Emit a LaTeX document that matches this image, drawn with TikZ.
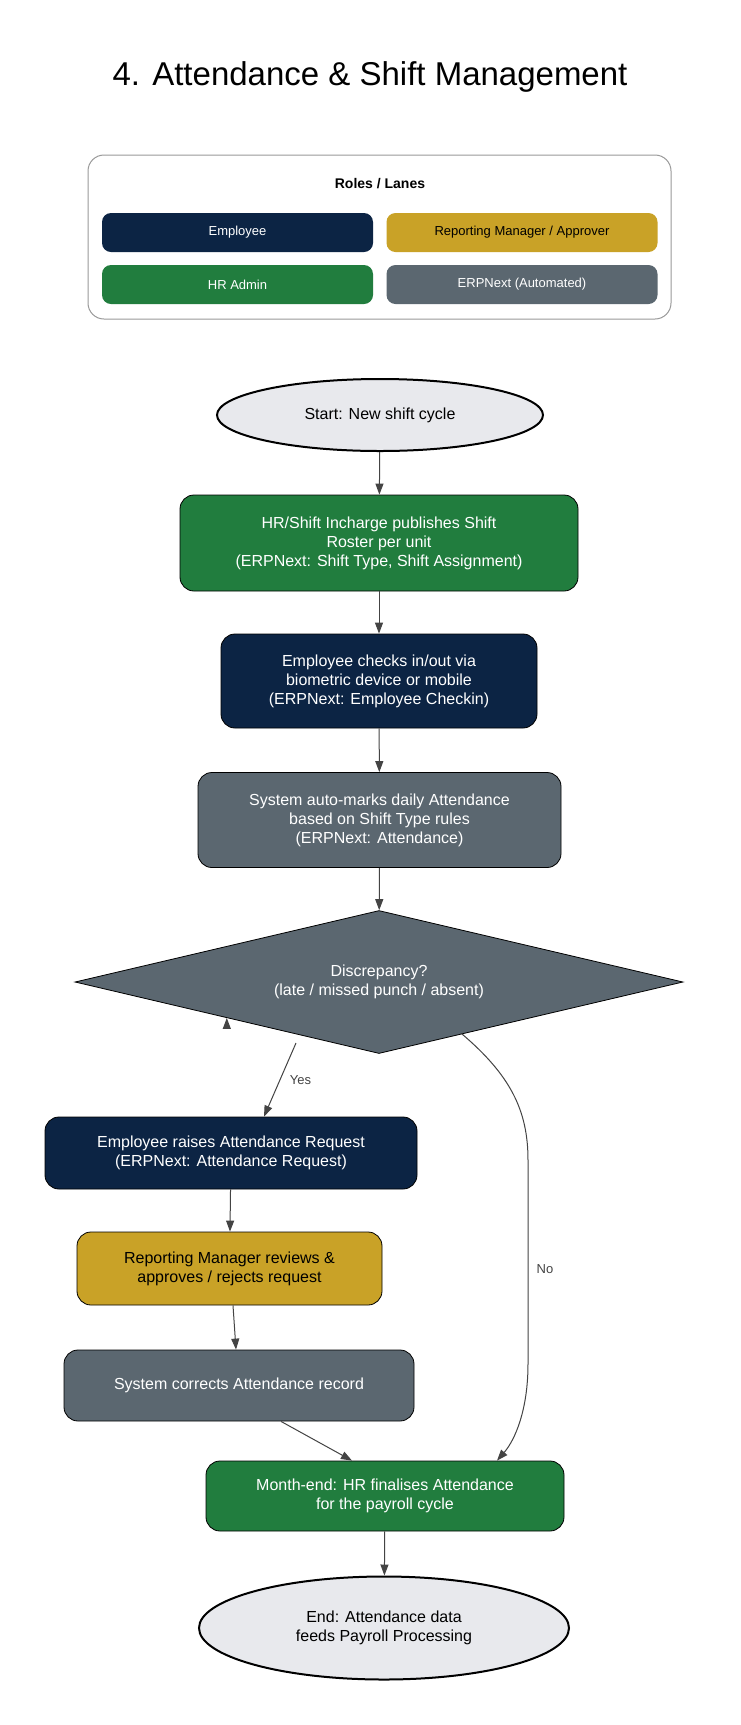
\documentclass[tikz,border=0pt]{standalone}
\usepackage{fontspec}
\setmainfont{Liberation Sans}
\usetikzlibrary{shapes.geometric,arrows.meta}
\definecolor{navy}{HTML}{0C2444}
\definecolor{gold}{HTML}{C9A227}
\definecolor{hrgreen}{HTML}{217D3E}
\definecolor{sysgray}{HTML}{5B6770}
\definecolor{startfill}{HTML}{E8E9ED}
\definecolor{edgec}{HTML}{444444}
\begin{document}
\begin{tikzpicture}[x=1pt,y=-1pt,
  box/.style={draw=black,line width=0.8pt,rounded corners=14pt,align=center,font=\fontsize{16}{19}\selectfont,text=white,inner sep=0pt},
  pill/.style={rounded corners=9pt,minimum width=271pt,minimum height=39pt,font=\fontsize{13}{15}\selectfont,inner sep=0pt},
  term/.style={ellipse,draw=black,line width=2pt,fill=startfill,align=center,font=\fontsize{16}{19}\selectfont,inner sep=0pt},
  arr/.style={-{Triangle[length=11pt,width=8pt]},draw=edgec,line width=1pt},
  elab/.style={font=\fontsize{13}{15}\selectfont,text=edgec}]
\useasboundingbox (0,0) rectangle (740,1725);
\fill[white] (0,0) rectangle (740,1725);
\node (title) at (370,77) {\fontsize{33}{38}\selectfont 4. Attendance \& Shift Management};
\draw[draw=gray!80,line width=1pt,rounded corners=16pt] (88,155) rectangle (671,319);
\node[font=\bfseries\fontsize{14}{16}\selectfont] (roles) at (380,184) {Roles / Lanes};
\node[pill,fill=navy,text=white] (lemp) at (237.5,232.5) {Employee};
\node[pill,fill=gold,text=black] (lmgr) at (522,232.5) {Reporting Manager / Approver};
\node[pill,fill=hrgreen,text=white] (lhr) at (237.5,284.5) {HR Admin};
\node[pill,fill=sysgray,text=white] (lsys) at (522,284.5) {ERPNext (Automated)};

\node[term,minimum width=326pt,minimum height=72pt] (start) at (380,415) {Start: New shift cycle};
\node[box,fill=hrgreen,minimum width=398pt,minimum height=96pt] (publish) at (379,543) {HR/Shift Incharge publishes Shift\\Roster per unit\\(ERPNext: Shift Type, Shift Assignment)};
\node[box,fill=navy,minimum width=316pt,minimum height=94pt] (checkin) at (379,681) {Employee checks in/out via\\biometric device or mobile\\(ERPNext: Employee Checkin)};
\node[box,fill=sysgray,minimum width=363pt,minimum height=95pt] (automark) at (379.5,820) {System auto-marks daily Attendance\\based on Shift Type rules\\(ERPNext: Attendance)};
\node[diamond,draw=black,line width=0.8pt,fill=sysgray,text=white,align=center,font=\fontsize{16}{19}\selectfont,minimum width=608pt,minimum height=143pt,inner sep=0pt,aspect=4.25] (disc) at (379,982) {Discrepancy?\\(late / missed punch / absent)};
\node[box,fill=navy,minimum width=372pt,minimum height=72pt] (request) at (231,1153) {Employee raises Attendance Request\\(ERPNext: Attendance Request)};
\node[box,fill=gold,text=black,minimum width=305pt,minimum height=73pt] (review) at (229.5,1268.5) {Reporting Manager reviews \&\\approves / rejects request};
\node[box,fill=sysgray,minimum width=350pt,minimum height=71pt] (correct) at (239,1385.5) {System corrects Attendance record};
\node[box,fill=hrgreen,minimum width=358pt,minimum height=70pt] (monthend) at (385,1496) {Month-end: HR finalises Attendance\\for the payroll cycle};
\node[term,minimum width=370pt,minimum height=103pt] (endn) at (384,1628) {End: Attendance data\\feeds Payroll Processing};

\draw[arr] (start) -- (publish);
\draw[arr] (publish) -- (checkin);
\draw[arr] (checkin) -- (automark);
\draw[arr] (automark) -- (disc);
\draw[arr] (disc.south west) ++(0,0) coordinate (dsw);
\coordinate (yesA) at (296,1043);
\draw[arr] (yesA) -- (request.north -| 264,0) node[elab,pos=0.5,right=6pt] (yeslab) {Yes};
\coordinate (noA) at (462,1034);
\coordinate (noB) at (528,1364);
\draw[arr] (noA) .. controls (510,1075) and (528,1110) .. (528,1160) -- (noB) .. controls (528,1410) and (515,1440) .. (monthend.north -| 497,0);
\node[elab] (nolab) at (545,1269) {No};
\draw[arr] (request) -- (review);
\draw[arr] (review.south -| 233,0) -- (correct.north -| 236,0);
\draw[arr] (correct.south -| 281,0) -- (monthend.north -| 352,0);
\draw[arr] (monthend) -- (endn);
\end{tikzpicture}
\end{document}
